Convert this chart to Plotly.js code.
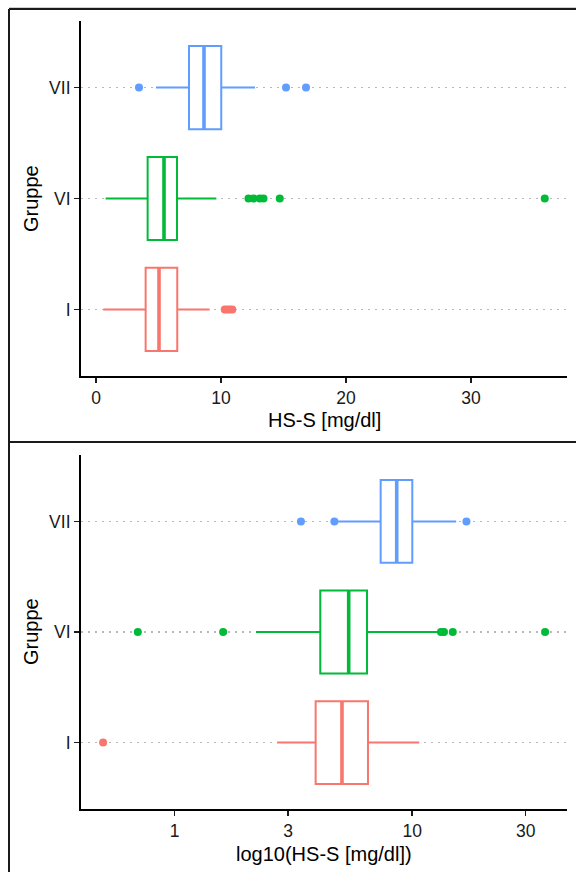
<!DOCTYPE html>
<html>
<head>
<meta charset="utf-8">
<script src="https://cdn.plot.ly/plotly-3.0.1.min.js"></script>
<style>
  html, body { margin: 0; padding: 0; background: #fff; }
  #chart { width: 576px; height: 872px; }
</style>
</head>
<body>
<div id="chart"></div>
<script>
// Groups, bottom to top on the y axis
const groups = ['I', 'VI', 'VII'];
const groupColors = ['#F8766D', '#00BA38', '#619CFF'];

// HS-S [mg/dl] box statistics on the linear scale
const linLowerFence = [0.59, 0.77, 4.8];
const linQ1 = [3.97, 4.13, 7.44];
const linMedian = [5.04, 5.44, 8.64];
const linQ3 = [6.5, 6.48, 10.02];
const linUpperFence = [9.09, 9.63, 12.72];
const linOutliersI = [10.3, 10.5, 10.7, 10.9];
const linOutliersVI = [12.2, 12.6, 13.1, 13.4, 14.7, 35.9];
const linOutliersVII = [3.44, 15.2, 16.8];

// HS-S [mg/dl] box statistics computed on the log10 scale
const logLowerFence = [2.7, 2.2, 4.87];
const logQ1 = [3.92, 4.10, 7.36];
const logMedian = [5.06, 5.40, 8.6];
const logQ3 = [6.51, 6.45, 10.0];
const logUpperFence = [10.7, 13.1, 15.3];
const logOutliersI = [0.50];
const logOutliersVI = [0.70, 1.60, 13.2, 13.6, 14.8, 36.2];
const logOutliersVII = [3.40, 4.70, 16.9];

const linTicks = [0, 10, 20, 30];
const logTicks = [1, 3, 10, 30];

const BOX_W = 0.75;
const W = 576, H = 872;

function panelTraces(stats, outliers, xa, ya) {
  const traces = [];
  groups.forEach((g, i) => {
    traces.push({
      type: 'box', orientation: 'h', xaxis: xa, yaxis: ya,
      y: [i], q1: [stats.q1[i]], median: [stats.med[i]], q3: [stats.q3[i]],
      lowerfence: [stats.lf[i]], upperfence: [stats.uf[i]],
      width: BOX_W, whiskerwidth: 0, boxpoints: false,
      fillcolor: '#ffffff', line: {color: groupColors[i], width: 2},
      showlegend: false, hoverinfo: 'skip'
    });
    // thicker median bar
    traces.push({
      type: 'scatter', mode: 'lines', xaxis: xa, yaxis: ya,
      x: [stats.med[i], stats.med[i]], y: [i - BOX_W / 2, i + BOX_W / 2],
      line: {color: groupColors[i], width: 3.6},
      showlegend: false, hoverinfo: 'skip'
    });
    traces.push({
      type: 'scatter', mode: 'markers', xaxis: xa, yaxis: ya,
      x: outliers[i], y: outliers[i].map(() => i),
      marker: {color: groupColors[i], size: 8},
      showlegend: false, hoverinfo: 'skip'
    });
  });
  return traces;
}

const data = [].concat(
  panelTraces({lf: linLowerFence, q1: linQ1, med: linMedian, q3: linQ3, uf: linUpperFence},
              [linOutliersI, linOutliersVI, linOutliersVII], 'x', 'y'),
  panelTraces({lf: logLowerFence, q1: logQ1, med: logMedian, q3: logQ3, uf: logUpperFence},
              [logOutliersI, logOutliersVI, logOutliersVII], 'x2', 'y2')
);

const tickFont = {family: 'Liberation Sans, Arial, sans-serif', size: 17.5, color: '#1a1a1a'};
const titleFont = {family: 'Liberation Sans, Arial, sans-serif', size: 20, color: '#000'};

const xDomain = [81 / W, 567 / W];
const yAxisCommon = {
  range: [-0.6, 2.6], tickvals: [0, 1, 2], ticktext: groups,
  showline: true, linecolor: '#000', linewidth: 2,
  ticks: 'outside', ticklen: 5, tickwidth: 1.6, tickcolor: '#1a1a1a',
  showgrid: true, gridcolor: '#b8b8b8', gridwidth: 1.6, griddash: '2px,5px',
  zeroline: false, tickfont: tickFont, fixedrange: true
};
const xAxisCommon = {
  domain: xDomain, showline: true, linecolor: '#000', linewidth: 2,
  ticks: 'outside', ticklen: 5, tickwidth: 1.6, tickcolor: '#1a1a1a',
  showgrid: false, zeroline: false, tickfont: tickFont, fixedrange: true
};

function py(px) { return 1 - px / H; }

const layout = {
  width: W, height: H,
  margin: {l: 0, r: 0, t: 0, b: 0},
  paper_bgcolor: '#fff', plot_bgcolor: '#fff',
  showlegend: false,
  xaxis: Object.assign({}, xAxisCommon, {
    anchor: 'y', range: [-1.2, 37.68], tickvals: linTicks, ticktext: linTicks.map(String)
  }),
  yaxis: Object.assign({}, yAxisCommon, {anchor: 'x', domain: [py(376), py(21)]}),
  xaxis2: Object.assign({}, xAxisCommon, {
    anchor: 'y2', type: 'log', range: [-0.394, 1.651],
    tickvals: logTicks, ticktext: logTicks.map(String)
  }),
  yaxis2: Object.assign({}, yAxisCommon, {anchor: 'x2', domain: [py(809), py(455)]}),
  annotations: [
    {text: 'HS-S [mg/dl]', xref: 'paper', yref: 'paper', x: 324 / W, y: py(420),
     showarrow: false, font: titleFont, xanchor: 'center', yanchor: 'middle'},
    {text: 'log10(HS-S [mg/dl])', xref: 'paper', yref: 'paper', x: 324 / W, y: py(854),
     showarrow: false, font: titleFont, xanchor: 'center', yanchor: 'middle'},
    {text: 'Gruppe', xref: 'paper', yref: 'paper', x: 31 / W, y: py(199), textangle: -90,
     showarrow: false, font: titleFont, xanchor: 'center', yanchor: 'middle'},
    {text: 'Gruppe', xref: 'paper', yref: 'paper', x: 31 / W, y: py(632), textangle: -90,
     showarrow: false, font: titleFont, xanchor: 'center', yanchor: 'middle'}
  ],
  shapes: [
    // outer frame and panel separator
    {type: 'line', xref: 'paper', yref: 'paper', x0: 9 / W, x1: 1, y0: py(7.5), y1: py(7.5),
     line: {color: '#d0d0d0', width: 1}},
    {type: 'line', xref: 'paper', yref: 'paper', x0: 9 / W, x1: 1, y0: py(9), y1: py(9),
     line: {color: '#1a1a1a', width: 2}},
    {type: 'line', xref: 'paper', yref: 'paper', x0: 9 / W, x1: 9 / W, y0: 0, y1: py(9),
     line: {color: '#1a1a1a', width: 2}},
    {type: 'line', xref: 'paper', yref: 'paper', x0: 9 / W, x1: 1, y0: py(442), y1: py(442),
     line: {color: '#1a1a1a', width: 2}}
  ]
};

Plotly.newPlot('chart', data, layout, {displayModeBar: false, staticPlot: true});
</script>
</body>
</html>
